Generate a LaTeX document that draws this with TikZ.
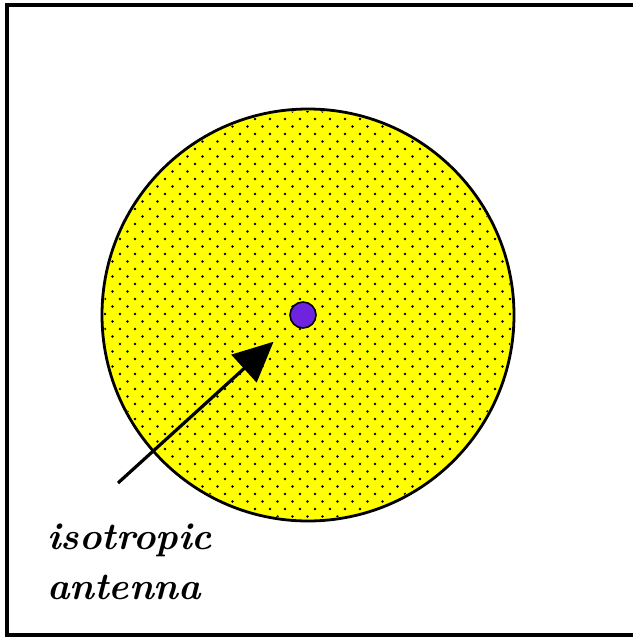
\documentclass[tikz,border=0pt]{standalone}
\usepackage{tikz}
\usetikzlibrary{arrows.meta, positioning}
\definecolor{fieldyellow}{RGB}{255,255,0}
\definecolor{antennaviolet}{RGB}{110,35,225}

\begin{document}
\begin{tikzpicture}[
    x=1pt, y=-1pt,
    field/.style={circle, draw=black, line width=2.8pt, fill=fieldyellow, minimum size=412pt, inner sep=0pt},
    source/.style={circle, draw=black, line width=1.6pt, fill=antennaviolet, minimum size=26pt, inner sep=0pt},
    pointer/.style={-{Triangle[length=40pt, width=37pt]}, line width=3.2pt, black},
    caption/.style={font=\fontsize{38}{50}\selectfont\bfseries\itshape, align=left, inner sep=0pt, anchor=north west}
]
\useasboundingbox (0,0) rectangle (633,637);
% Frame
\draw[line width=4pt] (633,5) -- (7,5) -- (7,635) -- (633,635);

% Radiation sphere (dotted yellow disc)
\node[field] (sphere) at (308,315) {};
\begin{scope}
  \clip (sphere.center) circle[radius=204pt];
  \foreach \j in {0,...,56} {
    \foreach \i in {0,...,29} {
      \fill ({90+15*\i+7.5*mod(\j,2)}, {104+7.5*\j}) circle[radius=1.4pt];
    }
  }
\end{scope}

% Antenna at the centre
\node[source] (antenna) at (303,315) {};

% Label and pointer
\node[caption] (label) at (47,524) {isotropic\\antenna};
\coordinate (tail) at (118,483);
\draw[pointer, shorten >=26pt] (tail) -- (antenna);
\end{tikzpicture}
\end{document}
